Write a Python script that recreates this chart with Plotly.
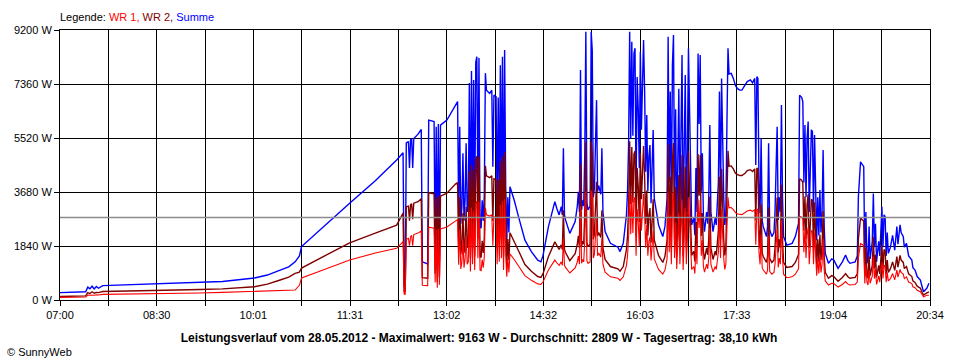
import plotly.graph_objects as go

# ---------------- data ----------------
tick_labels = ["07:00", "08:30", "10:01", "11:31", "13:02", "14:32", "16:03", "17:33", "19:04", "20:34"]
y_ticks = [0, 1840, 3680, 5520, 7360, 9200]
average_w = 2809

times = [
    "07:00","07:14","07:24","07:26","07:28","07:30","07:32","07:34","07:36","07:40",
    "08:05","08:38","09:11","09:32","10:02","10:14","10:26","10:34","10:40","10:44",
    "10:46","11:08","11:31","11:55","12:15","12:21","12:22","12:23","12:24","12:26",
    "12:27","12:28","12:29","12:30","12:31","12:35","12:38","12:39","12:44","12:45",
    "12:50","12:51","12:52","12:53","12:54","12:55","12:56","13:02","13:06","13:10",
    "13:12","13:13","13:14","13:15","13:16","13:17","13:18","13:19","13:20","13:21",
    "13:22","13:23","13:24","13:25","13:26","13:27","13:28","13:29","13:30","13:31",
    "13:32","13:33","13:34","13:35","13:36","13:37","13:38","13:39","13:42","13:44",
    "13:45","13:46","13:48","13:49","13:50","13:51","13:52","13:53","13:54","13:55",
    "13:56","13:57","13:58","13:59","14:00","14:01","14:03","14:05","14:09","14:15",
    "14:21","14:27","14:30","14:32","14:37","14:43","14:45","14:47","14:49","14:50",
    "14:51","14:52","14:53","14:57","15:02","15:04","15:05","15:06","15:07","15:08",
    "15:09","15:10","15:11","15:12","15:13","15:14","15:16","15:17","15:18","15:19",
    "15:20","15:22","15:23","15:24","15:26","15:27","15:28","15:30","15:35","15:39",
    "15:42","15:44","15:47","15:50","15:51","15:52","15:53","15:54","15:55","15:56",
    "15:57","15:58","15:59","16:00","16:01","16:02","16:03","16:04","16:05","16:06",
    "16:07","16:08","16:09","16:10","16:11","16:12","16:13","16:15","16:16","16:17",
    "16:20","16:24","16:26","16:28","16:29","16:30","16:31","16:32","16:33","16:34",
    "16:35","16:36","16:37","16:38","16:39","16:40","16:41","16:42","16:43","16:44",
    "16:45","16:46","16:47","16:48","16:49","16:50","16:51","16:53","16:54","16:55",
    "16:56","16:57","16:58","16:59","17:00","17:01","17:02","17:03","17:05","17:06",
    "17:07","17:08","17:09","17:11","17:13","17:14","17:15","17:16","17:17","17:18",
    "17:19","17:20","17:21","17:22","17:23","17:24","17:25","17:26","17:28","17:30",
    "17:32","17:34","17:36","17:38","17:41","17:43","17:46","17:48","17:50","17:51",
    "17:52","17:53","17:54","17:55","17:56","17:57","17:58","18:01","18:02","18:03",
    "18:04","18:06","18:08","18:09","18:10","18:11","18:12","18:13","18:14","18:15",
    "18:16","18:17","18:20","18:25","18:28","18:31","18:32","18:34","18:35","18:36",
    "18:37","18:38","18:39","18:40","18:41","18:42","18:43","18:44","18:45","18:46",
    "18:47","18:48","18:49","18:50","18:51","18:52","18:53","18:54","18:55","18:56",
    "18:59","19:02","19:04","19:08","19:12","19:15","19:17","19:19","19:24","19:26",
    "19:27","19:29","19:31","19:32","19:33","19:34","19:35","19:36","19:37","19:38",
    "19:40","19:41","19:42","19:43","19:44","19:46","19:47","19:48","19:49","19:50",
    "19:51","19:52","19:53","19:54","19:55","19:57","19:59","20:01","20:03","20:04",
    "20:06","20:07","20:09","20:10","20:12","20:14","20:17","20:18","20:20","20:22",
    "20:25","20:27","20:28","20:31","20:33",
]

summe = [
    250,260,280,440,380,470,380,460,400,490,
    520,580,600,630,750,850,1020,1130,1300,1500,
    1820,2550,3300,4060,4770,5020,500,500,5350,5400,
    4500,5450,5500,4500,5500,5650,5810,1300,1230,6130,
    6080,1500,5900,1020,6000,1300,5960,6130,6400,6640,
    6760,2960,5900,2600,3180,5000,2700,3400,5340,3000,
    3200,7390,2400,7800,3000,7500,2500,8100,8290,3500,
    8250,2500,2450,3400,2700,3600,7730,7150,7040,7150,
    4540,6980,6930,3000,6900,3200,8000,3500,8290,2500,
    8520,3860,1940,3500,2300,3860,3630,3400,2840,2040,
    1650,1360,1300,1530,2500,3350,3100,2900,3180,2900,
    5170,2900,2730,2270,2670,3200,3690,3000,7840,3070,
    3400,3200,5000,9140,3300,3070,3200,9140,8500,3500,
    3800,6810,3690,3900,3600,5170,3000,2330,1930,1870,
    1800,1650,1930,2900,3700,5280,9140,5500,8800,5600,
    8400,8580,3690,7600,6530,4500,8460,5800,7500,8860,
    7100,4370,6300,3700,4900,5280,3300,5790,3460,3200,
    2560,2160,2500,3460,8970,4000,7100,3000,8000,9030,
    3500,6500,2600,4600,7200,3000,5500,8350,2500,6000,
    7670,3000,5000,8580,6000,3500,2560,2800,2210,4500,
    3000,8400,6000,8350,3690,5000,2800,2330,3000,2600,
    3500,5960,3000,2330,2800,2560,3500,4000,7100,3500,
    7550,4500,3500,2560,3000,6000,8580,7700,7720,7550,
    7300,7200,7150,7150,7300,7440,7500,7400,7550,4600,
    7610,7550,4000,2960,5500,2700,2500,2160,2500,5340,
    2400,2160,2300,3000,4500,5900,2730,3500,3000,6640,
    3500,2160,1870,1930,2160,2610,6980,6900,6760,4000,
    5960,3500,5500,6080,3000,4090,5800,5740,3000,5620,
    3500,2040,3500,2200,3750,2300,3000,5110,2500,1590,
    1250,1400,1360,1080,1300,1530,1350,1250,1300,1500,
    3520,4710,4600,4540,1360,3000,1500,1250,2500,1400,
    2000,3630,1800,2600,1300,2000,1500,2500,3180,1800,
    2900,2840,1500,2300,1590,1800,2200,1700,2500,1900,
    2560,2300,2160,1800,1930,1500,1360,1100,1020,800,
    680,400,280,400,570,
]

wr2 = [
    120,130,140,250,220,280,230,260,250,290,
    300,330,360,380,450,540,680,780,910,950,
    1090,1520,1950,2280,2550,2960,300,300,3180,3200,
    2700,3250,3280,2750,3300,3350,3450,760,740,3650,
    3620,900,3500,620,3550,780,3540,3640,3800,3950,
    4000,1750,3500,1550,1890,2960,1600,2000,3170,1780,
    1900,4380,1430,4600,1780,4450,1480,4800,4900,2080,
    4880,1480,1450,2020,1600,2130,4570,4230,4170,4230,
    2690,4130,4100,1780,4100,1900,4730,2070,4900,1480,
    5050,2290,1150,2080,1360,2290,2150,2010,1680,1210,
    980,800,770,900,1480,1980,1840,1720,1880,1720,
    3060,1720,1620,1340,1580,1900,2190,1780,4640,1820,
    2010,1900,2960,5400,1950,1820,1900,5400,5000,2070,
    2250,4030,2180,2300,2130,3060,1780,1380,1140,1100,
    1060,980,1140,1720,2190,3130,5410,3260,5210,3320,
    4970,5080,2180,4500,3870,2660,5010,3430,4440,5250,
    4200,2590,3730,2190,2900,3130,1950,3430,2050,1890,
    1520,1280,1480,2050,5310,2370,4200,1780,4740,5350,
    2070,3850,1540,2720,4260,1780,3260,4940,1480,3550,
    4540,1780,2960,5080,3550,2070,1520,1660,1310,2660,
    1780,4970,3550,4940,2180,2960,1660,1380,1780,1540,
    2070,3530,1780,1380,1660,1520,2070,2370,4200,2070,
    4470,2660,2070,1520,1780,3550,5080,4560,4570,4470,
    4320,4270,4240,4240,4320,4410,4440,4380,4470,2720,
    4500,4470,2370,1750,3260,1600,1480,1280,1480,3160,
    1420,1280,1360,1780,2660,3490,1620,2070,1780,3930,
    2070,1280,1110,1140,1280,1550,4130,4080,4000,2370,
    3530,2070,3260,3600,1780,2420,3430,3400,1780,3330,
    2070,1210,2070,1300,2220,1360,1780,3030,1480,940,
    740,830,800,640,770,900,800,740,770,890,
    2080,2790,2720,2690,800,1780,890,740,1480,830,
    1180,2150,1070,1540,770,1180,890,1480,1880,1070,
    1720,1680,890,1360,940,1070,1300,1010,1480,1120,
    1520,1360,1280,1070,1140,890,800,650,600,470,
    400,240,170,240,280,
]

wr1 = [
    90,95,100,170,160,170,160,180,170,190,
    200,230,240,260,300,310,330,340,340,500,
    750,1050,1360,1600,1760,1990,200,200,2070,2100,
    1850,2150,2200,1850,2230,2280,2350,500,490,2480,
    2450,600,2400,420,2420,520,2420,2490,2580,2690,
    2740,1200,2400,1060,1290,2030,1100,1400,2170,1220,
    1300,3000,970,3150,1220,3050,1020,3280,3370,1420,
    3350,1020,1000,1380,1100,1470,3140,2900,2860,2900,
    1850,2830,2820,1220,2800,1300,3250,1420,3370,1020,
    3450,1570,790,1420,940,1570,1480,1380,1160,830,
    670,550,530,620,1020,1360,1260,1180,1300,1180,
    2100,1180,1110,920,1090,1300,1500,1220,3190,1250,
    1380,1300,2030,3700,1340,1250,1300,3740,3500,1430,
    1550,2780,1510,1600,1470,2110,1220,950,790,770,
    740,670,790,1180,1510,2150,3730,2240,3590,2280,
    3430,3500,1510,3100,2660,1840,3450,2370,3060,3610,
    2900,1780,2570,1510,2000,2150,1350,2360,1410,1310,
    1040,880,1020,1410,3660,1630,2900,1220,3260,3680,
    1430,2650,1060,1880,2940,1220,2240,3410,1020,2450,
    3130,1220,2040,3500,2450,1430,1040,1140,900,1840,
    1220,3430,2450,3410,1510,2040,1140,950,1220,1060,
    1430,2430,1220,950,1140,1040,1430,1630,2900,1430,
    3080,1840,1430,1040,1220,2450,3500,3140,3150,3080,
    2980,2930,2910,2910,2980,3030,3060,3020,3080,1880,
    3100,3080,1630,1210,2240,1100,1020,880,1020,2180,
    980,880,940,1220,1840,2410,1110,1430,1220,2710,
    1430,880,760,790,880,1060,2850,2820,2760,1630,
    2430,1430,2240,2480,1220,1670,2370,2340,1220,2290,
    1430,830,1430,900,1530,940,1220,2080,1020,650,
    510,570,560,440,530,630,550,510,530,610,
    1440,1920,1880,1850,560,1220,610,510,1020,570,
    820,1480,730,1060,530,820,610,1020,1300,730,
    1180,1160,610,940,650,730,900,690,1020,780,
    1040,940,880,730,790,610,560,450,420,330,
    280,160,110,160,160,
]

title_text = ("Leistungsverlauf vom 28.05.2012 - Maximalwert: 9163 W - "
              "Durchschnitt: 2809 W - Tagesertrag: 38,10 kWh")

# ---------------- helpers ----------------
def to_min(s):
    h, m = s.split(":")
    return int(h) * 60 + int(m)

x = [to_min(t) for t in times]
x0 = to_min(tick_labels[0])
x1 = to_min(tick_labels[-1])
n_grid = 2 * (len(tick_labels) - 1)
grid_vals = [x0 + i * (x1 - x0) / n_grid for i in range(n_grid + 1)]
grid_text = [tick_labels[i // 2] if i % 2 == 0 else "" for i in range(n_grid + 1)]

FONT = "Liberation Sans"

fig = go.Figure()
fig.add_trace(go.Scatter(x=x, y=summe, mode="lines", name="Summe",
                         line=dict(color="#0000ff", width=1.4)))
fig.add_trace(go.Scatter(x=x, y=wr2, mode="lines", name="WR 2",
                         line=dict(color="#800000", width=1.4)))
fig.add_trace(go.Scatter(x=x, y=wr1, mode="lines", name="WR 1",
                         line=dict(color="#ff0000", width=1.1)))

fig.add_shape(type="line", xref="paper", x0=0, x1=1, yref="y",
              y0=average_w, y1=average_w, layer="above",
              line=dict(color="#8c8c8c", width=1.5))

fig.update_layout(
    width=960, height=360,
    margin=dict(l=60, r=30, t=30, b=60),
    paper_bgcolor="white", plot_bgcolor="white",
    showlegend=False,
    font=dict(family=FONT, size=11, color="black"),
    title=dict(text="<b>" + title_text + "</b>", x=0.499, xref="container",
               xanchor="center", y=1 - 338 / 360, yref="container",
               yanchor="middle", font=dict(family=FONT, size=12, color="black")),
)

fig.update_xaxes(
    range=[x0, x1], tickmode="array", tickvals=grid_vals, ticktext=grid_text,
    showgrid=True, gridcolor="black", gridwidth=1,
    showline=True, linecolor="black", linewidth=1, mirror=True,
    ticks="outside", ticklen=5, tickcolor="black", zeroline=False,
    tickfont=dict(family=FONT, size=11, color="black"),
)
fig.update_yaxes(
    range=[0, y_ticks[-1]], tickmode="array", tickvals=y_ticks,
    ticktext=[f"{v} W" for v in y_ticks],
    showgrid=True, gridcolor="black", gridwidth=1,
    showline=True, linecolor="black", linewidth=1, mirror=True,
    ticks="outside", ticklen=5, tickcolor="black", zeroline=False,
    tickfont=dict(family=FONT, size=11, color="black"),
)

fig.add_annotation(
    xref="paper", yref="paper", x=-0.002, y=1 + 13 / 270, xanchor="left", yanchor="middle",
    showarrow=False, font=dict(family=FONT, size=11, color="black"),
    text=("Legende: <span style='color:#ff0000'>WR 1,</span> "
          "<span style='color:#800000'>WR 2,</span> "
          "<span style='color:#0000ff'>Summe</span>"),
)
fig.add_annotation(
    xref="paper", yref="paper", x=(5 - 60) / 870, y=(300 - 352) / 270,
    xanchor="left", yanchor="middle", showarrow=False,
    font=dict(family=FONT, size=11, color="black"), text="© SunnyWeb",
)

fig.write_html("out.html", config={"displayModeBar": False},
               post_script="document.body.style.margin='0px';")
